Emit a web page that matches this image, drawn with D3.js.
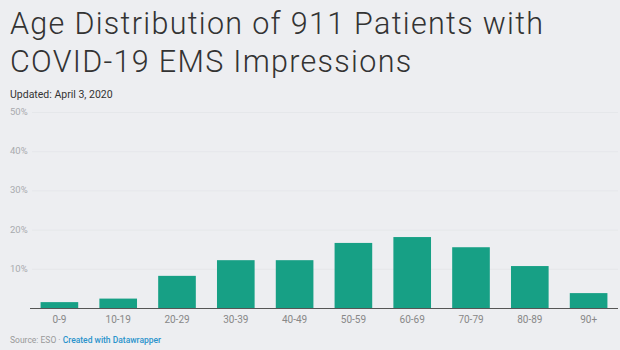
<!DOCTYPE html>
<html><head><meta charset="utf-8">
<script src="https://cdn.jsdelivr.net/npm/d3@7"></script>
<style>
html,body{margin:0;padding:0;background:#edeef1;}
svg{display:block;}
</style></head>
<body>
<svg id="c" width="620" height="350"></svg>
<script>
const categories = ["0-9","10-19","20-29","30-39","40-49","50-59","60-69","70-79","80-89","90+"];
const values = [1.5, 2.4, 8.2, 12.2, 12.2, 16.6, 18.1, 15.5, 10.7, 3.8];
const yTicks = [10, 20, 30, 40, 50];
const titleLines = ["Age Distribution of 911 Patients with", "COVID-19 EMS Impressions"];
const subtitle = "Updated: April 3, 2020";

const svg = d3.select("#c");
svg.append("rect").attr("width",620).attr("height",350).attr("fill","#edeef1");

const title = svg.append("text").attr("x",10).attr("font-family","Roboto").attr("font-weight",300)
  .attr("font-size",30.5).attr("letter-spacing",1.3).attr("fill","#333");
titleLines.forEach((t,i)=>title.append("tspan").attr("x",10).attr("y",34+i*37.5).text(t));

svg.append("text").attr("x",10).attr("y",98).attr("font-family","Roboto").attr("font-size",10.5)
  .attr("fill","#333").text(subtitle);

const x = d3.scaleBand().domain(categories).range([30,618]).paddingInner(0.36).paddingOuter(0.18);
const y = d3.scaleLinear().domain([0,50]).range([308,112]);

const g = svg.append("g");
g.selectAll("line.grid").data(yTicks).join("line")
  .attr("x1",32).attr("x2",618)
  .attr("y1",d=>y(d)+0.5).attr("y2",d=>y(d)+0.5)
  .attr("stroke","#e5e7ea").attr("stroke-width",1);
g.selectAll("text.yl").data(yTicks).join("text")
  .attr("x",10).attr("y",d=>y(d)+3)
  .attr("font-family","Roboto").attr("font-size",9.5).attr("fill","#a8aaae")
  .text(d=>d+"%");

g.selectAll("rect.bar").data(values).join("rect")
  .attr("x",(d,i)=>x(categories[i])).attr("width",x.bandwidth())
  .attr("y",d=>y(d)).attr("height",d=>y(0)-y(d))
  .attr("fill","#17a085");

const xAxis = d3.axisBottom(x).tickSize(0).tickPadding(8);
const ax = svg.append("g").attr("transform",`translate(0,${y(0)})`).call(xAxis);
ax.select(".domain").attr("stroke","#555").attr("d","M30,0.5H618");
ax.selectAll("text").attr("font-family","Roboto").attr("font-size",10).attr("fill","#888");

const src = svg.append("text").attr("x",10).attr("y",343).attr("font-family","Roboto").attr("font-size",8.5);
src.append("tspan").attr("fill","#999").text("Source: ESO · ");
src.append("tspan").attr("fill","#2a93cc").attr("font-weight",500).text("Created with Datawrapper");
</script>
</body></html>
